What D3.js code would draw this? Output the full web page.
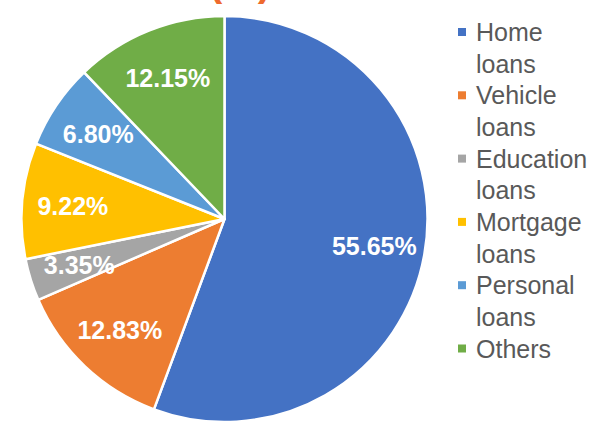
<!DOCTYPE html>
<html>
<head>
    <script src="https://cdn.jsdelivr.net/npm/d3@7"></script>
    <style>
        body { margin: 0; background: #ffffff; }
    </style>
</head>

<body>
<div id="chart"></div>

<script>

    var categories = ['Home loans', 'Vehicle loans', 'Education loans', 'Mortgage loans', 'Personal loans', 'Others'];
    var shares = [55.65, 12.83, 3.35, 9.22, 6.80, 12.15];
    var colors = ['#4472C4', '#ED7D31', '#A5A5A5', '#FFC000', '#5B9BD5', '#70AD47'];

    var loans = categories.map(function(c, i) { return { name: c, value: shares[i] }; });

    var width = 595;
    var height = 430;
    var radius = 203;
    var cx = 224.5, cy = 219;

    var svg = d3.select('#chart').append('svg')
        .attr('width', width)
        .attr('height', height)
        .style('font-family', '"Liberation Sans", Arial, sans-serif');

    // title sits mostly above the frame, only the bottom of the brackets shows
    svg.append('text')
        .attr('x', 240)
        .attr('y', -4)
        .attr('text-anchor', 'middle')
        .attr('font-size', 40)
        .attr('font-weight', 'bold')
        .attr('fill', '#EE6A2E')
        .text('(%)');

    var g = svg.append('g')
        .attr('transform', 'translate(' + cx + ',' + cy + ')');

    var pie = d3.pie()
        .sort(null)
        .value(function(d) { return d.value; });

    var arc = d3.arc()
        .innerRadius(0)
        .outerRadius(radius);

    var labelArc = d3.arc()
        .innerRadius(radius * 0.75)
        .outerRadius(radius * 0.75);

    g.selectAll('path')
        .data(pie(loans))
        .enter()
        .append('path')
        .attr('d', arc)
        .attr('fill', function(d, i) { return colors[i]; })
        .attr('stroke', '#ffffff')
        .attr('stroke-width', 2.5)
        .attr('stroke-linejoin', 'round');

    g.selectAll('text.pct')
        .data(pie(loans))
        .enter()
        .append('text')
        .attr('class', 'pct')
        .attr('transform', function(d) { return 'translate(' + labelArc.centroid(d) + ')'; })
        .attr('text-anchor', 'middle')
        .attr('dy', '0.38em')
        .attr('font-size', 25)
        .attr('font-weight', 'bold')
        .attr('fill', '#ffffff')
        .text(function(d) { return d.data.value.toFixed(2) + '%'; });

    // legend, two lines per entry
    var lineStep = 31.65;
    var legend = svg.append('g')
        .attr('transform', 'translate(458,41)');

    var entries = legend.selectAll('g.legend-entry')
        .data(loans)
        .enter()
        .append('g')
        .attr('class', 'legend-entry')
        .attr('transform', function(d, i) { return 'translate(0,' + (i * 2 * lineStep) + ')'; });

    entries.append('rect')
        .attr('x', 0)
        .attr('y', -13)
        .attr('width', 8)
        .attr('height', 8)
        .attr('fill', function(d, i) { return colors[i]; });

    entries.append('text')
        .attr('x', 18)
        .attr('font-size', 25)
        .attr('fill', '#595959')
        .each(function(d) {
            var words = d.name.split(' ');
            var t = d3.select(this);
            words.forEach(function(w, k) {
                t.append('tspan')
                    .attr('x', 18)
                    .attr('y', k * lineStep)
                    .text(w);
            });
        });

</script>
</body>
</html>
